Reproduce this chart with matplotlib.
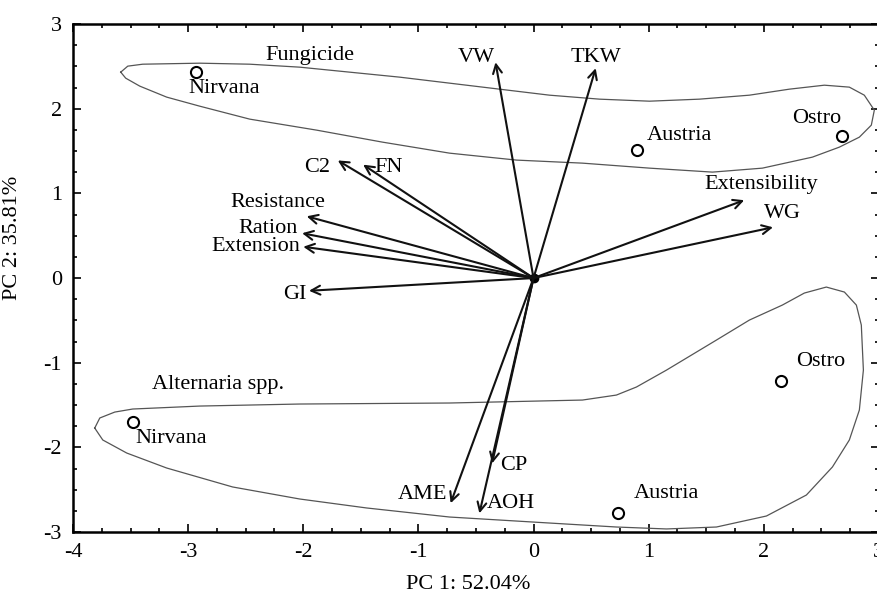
#!/usr/bin/env python3
"""PCA biplot: PC1 vs PC2 with trait loadings and treatment hulls."""

import matplotlib
matplotlib.use("Agg")
import matplotlib.pyplot as plt
from matplotlib.ticker import MultipleLocator

plt.rcParams["font.family"] = ["Liberation Serif", "DejaVu Serif"]
plt.rcParams["axes.unicode_minus"] = False

# variable loadings (arrow tips)
VAR_NAMES = ["VW", "TKW", "C2", "FN", "Resistance", "Ration", "Extension",
             "GI", "Extensibility", "WG", "AME", "CP", "AOH"]
VAR_X = [-0.33, 0.54, -1.70, -1.48, -1.97, -2.01, -2.00,
         -1.95, 1.83, 2.08, -0.72, -0.36, -0.47]
VAR_Y = [2.55, 2.48, 1.39, 1.34, 0.73, 0.53, 0.37,
         -0.15, 0.92, 0.60, -2.66, -2.19, -2.78]
# label anchors for the loadings
VAR_LX = [-0.50, 0.54, -1.88, -1.26, -1.81, -2.05, -2.03,
          -1.97, 1.98, 2.16, -0.75, -0.29, -0.41]
VAR_LY = [2.61, 2.61, 1.31, 1.31, 0.89, 0.59, 0.37,
          -0.19, 1.10, 0.76, -2.56, -2.21, -2.66]
VAR_HA = ["center", "center", "center", "center", "right", "right", "right",
          "right", "center", "center", "right", "left", "left"]

# cultivar scores
CULT_NAMES = ["Nirvana", "Austria", "Ostro", "Nirvana", "Austria", "Ostro"]
CULT_X = [-2.93, 0.90, 2.68, -3.48, 0.73, 2.15]
CULT_Y = [2.43, 1.51, 1.68, -1.70, -2.78, -1.22]
CULT_LX = [-3.00, 0.98, 2.25, -3.46, 0.87, 2.28]
CULT_LY = [2.24, 1.69, 1.89, -1.89, -2.55, -0.98]

GROUPS = ["Fungicide", "Alternaria spp."]
GROUP_LX = [-2.33, -3.31]
GROUP_LY = [2.63, -1.26]

# hull outlines
FUNG_X = [-3.585, -3.524, -3.394, -2.899, -2.465, -2.031, -1.597, -1.163,
          -0.729, -0.295, 0.139, 0.573, 1.007, 1.441, 1.875, 2.222, 2.526,
          2.743, 2.873, 2.960, 2.934, 2.830, 2.656, 2.422, 1.988, 1.554,
          1.007, 0.425, -0.148, -0.729, -1.311, -1.884, -2.465, -2.899,
          -3.186, -3.420, -3.542, -3.585]
FUNG_Y = [2.433, 2.504, 2.527, 2.539, 2.527, 2.492, 2.433, 2.374,
          2.303, 2.232, 2.161, 2.114, 2.090, 2.114, 2.161, 2.232, 2.279,
          2.256, 2.161, 1.984, 1.807, 1.665, 1.547, 1.429, 1.299, 1.252,
          1.299, 1.358, 1.394, 1.476, 1.606, 1.748, 1.878, 2.031,
          2.138, 2.268, 2.362, 2.433]
ALT_X = [-3.811, -3.767, -3.637, -3.481, -2.899, -2.031, -0.729, 0.425,
         0.720, 0.894, 1.155, 1.589, 1.875, 2.161, 2.352, 2.543, 2.700,
         2.804, 2.847, 2.865, 2.830, 2.743, 2.596, 2.370, 2.023, 1.589,
         1.155, 0.720, 0.139, -0.729, -1.450, -2.031, -2.613, -3.186,
         -3.533, -3.741, -3.811]
ALT_Y = [-1.772, -1.653, -1.583, -1.547, -1.512, -1.488, -1.476, -1.441,
         -1.382, -1.287, -1.087, -0.732, -0.496, -0.319, -0.177, -0.106,
         -0.165, -0.319, -0.555, -1.087, -1.559, -1.913, -2.232, -2.563,
         -2.811, -2.941, -2.964, -2.941, -2.894, -2.823, -2.716, -2.610,
         -2.468, -2.244, -2.067, -1.913, -1.772]

FS = 16

fig = plt.figure(figsize=(8.77, 6.01), dpi=100)
ax = fig.add_axes([0.0832, 0.1148, 0.919, 0.845])

ax.plot(FUNG_X, FUNG_Y, color="#555555", lw=0.9)
ax.plot(ALT_X, ALT_Y, color="#555555", lw=0.9)

for name, x, y, lx, ly, ha in zip(VAR_NAMES, VAR_X, VAR_Y, VAR_LX, VAR_LY, VAR_HA):
    ax.annotate("", xy=(x, y), xytext=(0, 0),
                arrowprops=dict(arrowstyle="->", lw=1.5, color="#111111",
                                shrinkA=0, shrinkB=0, mutation_scale=16))
    ax.text(lx, ly, name, ha=ha, va="center", fontsize=FS)

ax.plot([0], [0], "o", color="black", ms=6)

ax.plot(CULT_X, CULT_Y, "o", ms=8, mfc="white", mec="black", mew=1.5,
        linestyle="none")
for name, lx, ly in zip(CULT_NAMES, CULT_LX, CULT_LY):
    ax.text(lx, ly, name, ha="left", va="center", fontsize=FS)

for name, lx, ly in zip(GROUPS, GROUP_LX, GROUP_LY):
    ax.text(lx, ly, name, ha="left", va="center", fontsize=FS)

ax.set_xlim(-4, 3)
ax.set_ylim(-3, 3)
ax.xaxis.set_major_locator(MultipleLocator(1))
ax.yaxis.set_major_locator(MultipleLocator(1))
ax.xaxis.set_minor_locator(MultipleLocator(0.25))
ax.yaxis.set_minor_locator(MultipleLocator(0.25))
ax.tick_params(which="both", direction="in", top=True, right=True,
               labelsize=FS, width=1.2)
ax.tick_params(which="major", length=6, pad=8)
ax.tick_params(which="minor", length=3)
for spine in ax.spines.values():
    spine.set_linewidth(1.8)

ax.set_xlabel("PC 1: 52.04%", fontsize=FS)
ax.set_ylabel("PC 2: 35.81%", fontsize=FS)
ax.xaxis.set_label_coords(0.49, -0.085)
ax.yaxis.set_label_coords(-0.063, 0.58)

fig.savefig("out.png", dpi=100, facecolor="white")
